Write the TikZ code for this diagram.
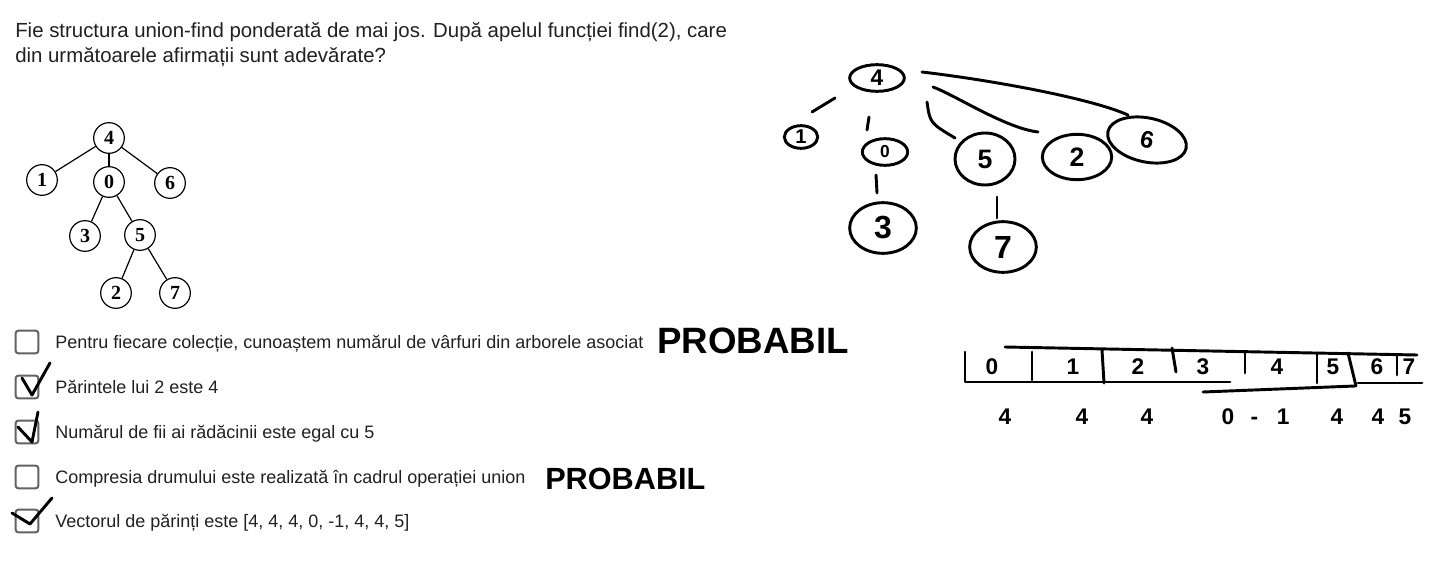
\documentclass[tikz,border=0pt]{standalone}
\usepackage{fontspec}
\setmainfont{Liberation Sans}
\newfontfamily\treefont{Liberation Serif}
\usetikzlibrary{shapes.geometric, positioning, calc}
\definecolor{formtext}{HTML}{202124}
\definecolor{boxgray}{HTML}{5F6368}

\begin{document}
\begin{tikzpicture}[x=0.75pt, y=-0.75pt,
  qtext/.style={anchor=base west, inner sep=0pt, text=formtext,
                font=\fontsize{15.3}{17}\selectfont},
  otext/.style={anchor=base west, inner sep=0pt, text=formtext,
                font=\fontsize{13.5}{15}\selectfont},
  chk/.style={draw=boxgray, line width=1.5pt, rounded corners=2pt,
              minimum size=17pt, inner sep=0pt},
  tnode/.style={draw, circle, minimum size=23pt, inner sep=0pt, line width=0.9pt,
                font=\treefont\bfseries\fontsize{15}{15}\selectfont},
  tedge/.style={line width=0.9pt},
  hand/.style={line width=2.2pt, line cap=round, line join=round},
  hnode/.style={draw, ellipse, hand, inner sep=0pt},
  hdig/.style={inner sep=0pt, font=\bfseries\fontsize{17}{17}\selectfont},
  hword/.style={anchor=west, inner sep=0pt}
]
\useasboundingbox (0,0) rectangle (1434,574);
\fill[white] (0,0) rectangle (1434,574);

% question
\node[qtext] (q1) at (15,38) {Fie structura union-find ponderată de mai jos. După apelul funcției find(2), care};
\node[qtext] (q2) at (15,63) {din următoarele afirmații sunt adevărate?};

% printed tree
\node[tnode] (t4) at (109,138) {4};
\node[tnode] (t1) at (42,180)  {1};
\node[tnode] (t0) at (109,182) {0};
\node[tnode] (t6) at (170,183) {6};
\node[tnode] (t3) at (85,236)  {3};
\node[tnode] (t5) at (140,235) {5};
\node[tnode] (t2) at (116,293) {2};
\node[tnode] (t7) at (175,293) {7};
\draw[tedge] (t4) -- (t1);
\draw[tedge] (t4) -- (t0);
\draw[tedge] (t4) -- (t6);
\draw[tedge] (t0) -- (t3);
\draw[tedge] (t0) -- (t5);
\draw[tedge] (t5) -- (t2);
\draw[tedge] (t5) -- (t7);

% options
\node[chk] (c1) at (27,342) {};
\node[chk] (c2) at (27,387) {};
\node[chk] (c3) at (27,432) {};
\node[chk] (c4) at (27,477) {};
\node[chk] (c5) at (27,521) {};
\node[otext] (o1) at (55,348) {Pentru fiecare colecție, cunoaștem numărul de vârfuri din arborele asociat};
\node[otext] (o2) at (55,393) {Părintele lui 2 este 4};
\node[otext] (o3) at (55,438) {Numărul de fii ai rădăcinii este egal cu 5};
\node[otext] (o4) at (55,483) {Compresia drumului este realizată în cadrul operației union};
\node[otext] (o5) at (55,527) {Vectorul de părinți este [4, 4, 4, 0, -1, 4, 4, 5]};

% handwritten ticks
\draw[hand] ($(c2)+(-5,-9)$) -- ($(c2)+(5,8)$) -- ($(c2)+(23,-24)$);
\draw[hand] ($(c3)+(-9,-5)$) -- ($(c3)+(5,10)$) -- ($(c3)+(11,-20)$);
\draw[hand] ($(c5)+(-15,-8)$) -- ($(c5)+(3,3)$) -- ($(c5)+(25,-23)$);

% handwritten notes
\node[hword, font=\bfseries\fontsize{27.5}{28}\selectfont] (n1) at (657,341) {PROBABIL};
\node[hword, font=\bfseries\fontsize{23}{23}\selectfont] (n2) at (545,479) {PROBABIL};

% handwritten tree after find(2)
\node[hnode, minimum width=41pt, minimum height=20pt, font=\bfseries\fontsize{17}{17}\selectfont] (h4) at (877,78)  {4};
\node[hnode, minimum width=25pt, minimum height=17pt, font=\bfseries\fontsize{15}{15}\selectfont] (h1) at (801,137) {1};
\node[hnode, minimum width=34pt, minimum height=20pt, font=\bfseries\fontsize{13}{13}\selectfont] (h0) at (885,152) {0};
\node[hnode, minimum width=45pt, minimum height=39pt, font=\bfseries\fontsize{20}{20}\selectfont] (h5) at (985,159) {5};
\node[hnode, minimum width=52pt, minimum height=34pt, font=\bfseries\fontsize{20}{20}\selectfont] (h2) at (1077,157) {2};
\node[hnode, minimum width=60pt, minimum height=33pt, rotate=-12, font=\bfseries\fontsize{18}{18}\selectfont] (h6) at (1147,140) {6};
\node[hnode, minimum width=50pt, minimum height=38pt, font=\bfseries\fontsize{24}{24}\selectfont] (h3) at (883,228) {3};
\node[hnode, minimum width=50pt, minimum height=38pt, font=\bfseries\fontsize{24}{24}\selectfont] (h7) at (1003,247) {7};
\draw[hand] ($(h4)+(-42,20)$) -- ($(h1)+(11,-25)$);
\draw[hand] ($(h4)+(-8,39)$) -- ($(h0)+(-18,-22)$);
\draw[hand] ($(h4)+(50,24)$) .. controls ($(h4)+(53,45)$) .. ($(h5)+(-30,-21)$);
\draw[hand] ($(h4)+(56,9)$) .. controls ($(h4)+(78,17)$) and ($(h2)+(-72,-29)$) .. ($(h2)+(-39,-25)$);
\draw[hand] ($(h4)+(45,-6)$) .. controls ($(h4)+(113,2)$) and ($(h6)+(-57,-42)$) .. ($(h6)+(-19,-25)$);
\draw[hand] ($(h0)+(-9,23)$) -- ($(h3)+(-6,-35)$);
\draw[hand] ($(h5)+(12,38)$) -- ($(h7)+(-6,-29)$);

% handwritten parent vector
\draw[hand] (1005,347) -- (1417,355);
\draw[hand] (965,352) -- (965,382) -- (1230,382);
\draw[hand] (1203,392) -- (1355,386);
\draw[hand] (1358,383) -- (1422,383);
\draw[hand] (1032,352) -- (1032,380);
\draw[hand] (1102,350) -- (1104,383);
\draw[hand] (1172,348) -- (1176,372);
\draw[hand] (1245,353) -- (1245,373);
\draw[hand] (1317,353) -- (1317,383);
\draw[hand] (1348,353) -- (1356,386);
\draw[hand] (1397,355) -- (1397,375);
\node[hdig] (cell0) at (992,367)  {0};
\node[hdig] (cell1) at (1073,367) {1};
\node[hdig] (cell2) at (1138,367) {2};
\node[hdig] (cell3) at (1203,367) {3};
\node[hdig] (cell4) at (1277,367) {4};
\node[hdig] (cell5) at (1333,367) {5};
\node[hdig] (cell6) at (1377,367) {6};
\node[hdig] (cell7) at (1409,367) {7};
\node[hdig] (val0) at (1005,417) {4};
\node[hdig] (val1) at (1082,417) {4};
\node[hdig] (val2) at (1147,417) {4};
\node[hdig] (val3) at (1228,417) {0};
\node[hdig] (val4) at (1270,417) {-\hspace{14pt}1};
\node[hdig] (val5) at (1337,417) {4};
\node[hdig] (val6) at (1378,417) {4};
\node[hdig] (val7) at (1405,417) {5};
\end{tikzpicture}
\end{document}
